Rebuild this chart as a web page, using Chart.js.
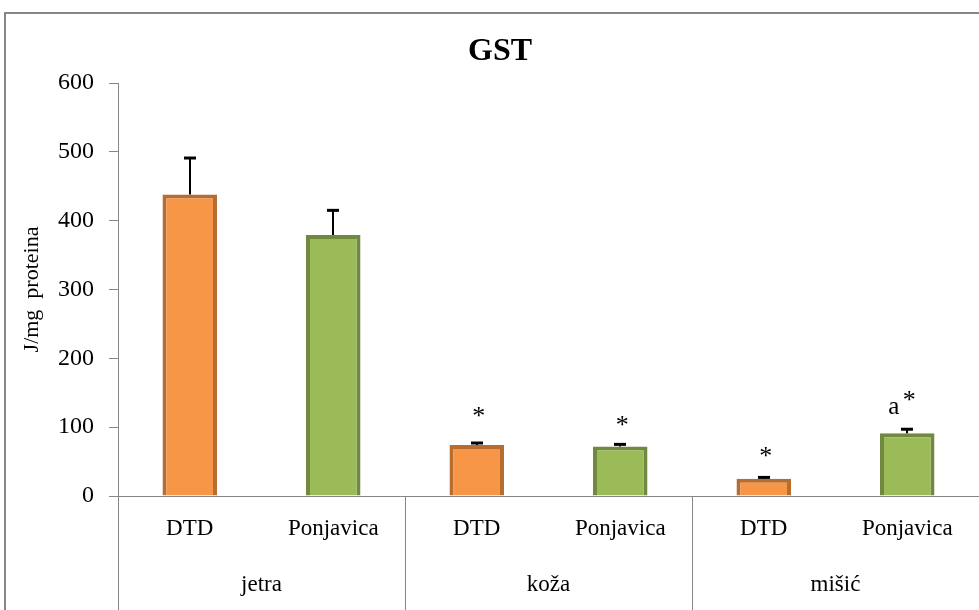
<!DOCTYPE html>
<html>
<head>
<meta charset="utf-8">
<script src="https://cdn.jsdelivr.net/npm/chart.js@4/dist/chart.umd.min.js"></script>
<style>
  html, body { margin: 0; padding: 0; background: #fff; overflow: hidden; }
  #wrap { position: absolute; left: 0; top: 0; width: 979px; height: 610px; }
</style>
</head>
<body>
<div id="wrap"><canvas id="c"></canvas></div>
<script>
// ---- data ----
const title = 'GST';
const groups = ['jetra', 'koža', 'mišić'];
const subLabels = ['DTD', 'Ponjavica', 'DTD', 'Ponjavica', 'DTD', 'Ponjavica'];
const values = [438, 379, 74, 72, 25, 91];
const errors = [53, 36, 3, 3, 2, 6];
const markPrefix = ['', '', '', '', '', 'a'];
const marks = ['', '', '*', '*', '*', '*'];
const markLevels = [0, 0, 115, 102, 57, 138];
const yTicks = [0, 100, 200, 300, 400, 500, 600];

const FONT = "'Liberation Serif', 'Times New Roman', serif";
const fills = ['#F79646', '#9BBB59'];
const borders = ['#B66D31', '#71893F'];
const gray = '#868686';

const extras = {
  id: 'extras',
  afterDatasetsDraw(chart) {
    const ctx = chart.ctx;
    const y = chart.scales.y;
    const meta = chart.getDatasetMeta(0);
    ctx.save();
    // error bars (upper only)
    ctx.strokeStyle = '#000';
    values.forEach((v, i) => {
      const bx = Math.round(meta.data[i].x);
      const y1 = y.getPixelForValue(v);
      const y2 = y.getPixelForValue(v + errors[i]);
      ctx.lineWidth = 2;
      ctx.beginPath(); ctx.moveTo(bx, y1); ctx.lineTo(bx, y2); ctx.stroke();
      ctx.lineWidth = 3;
      ctx.beginPath(); ctx.moveTo(bx - 6, y2); ctx.lineTo(bx + 6, y2); ctx.stroke();
    });
    // significance marks
    ctx.fillStyle = '#000';
    ctx.textBaseline = 'middle';
    marks.forEach((m, i) => {
      if (!m) return;
      const bx = meta.data[i].x;
      const py = y.getPixelForValue(markLevels[i]);
      ctx.font = '26px ' + FONT;
      ctx.textAlign = 'center';
      ctx.fillText(m, bx + 2, py);
      if (markPrefix[i]) {
        ctx.font = '25px ' + FONT;
        ctx.textAlign = 'right';
        ctx.fillText(markPrefix[i], bx - 8, py + 6);
      }
    });
    ctx.restore();
  },
  afterDraw(chart) {
    const ctx = chart.ctx;
    const x = chart.scales.x;
    const area = chart.chartArea;
    ctx.save();
    // outer frame
    ctx.strokeStyle = gray;
    ctx.lineWidth = 2;
    ctx.beginPath();
    ctx.moveTo(5, chart.height); ctx.lineTo(5, 13); ctx.lineTo(chart.width, 13);
    ctx.stroke();
    // group separators
    ctx.lineWidth = 1;
    const gw = (area.right - area.left) / groups.length;
    for (let g = 0; g <= groups.length; g++) {
      const sx = Math.round(area.left + g * gw) + 0.5;
      ctx.beginPath(); ctx.moveTo(sx, area.bottom); ctx.lineTo(sx, chart.height); ctx.stroke();
    }
    // group labels
    ctx.fillStyle = '#000';
    ctx.font = '23px ' + FONT;
    ctx.textAlign = 'center';
    ctx.textBaseline = 'middle';
    groups.forEach((g, i) => {
      const cx = (x.getPixelForValue(2 * i) + x.getPixelForValue(2 * i + 1)) / 2;
      ctx.fillText(g, cx, 585);
    });
    // chart title
    ctx.font = 'bold 32px ' + FONT;
    ctx.fillText(title, 500, 52);
    ctx.restore();
  }
};

new Chart(document.getElementById('c'), {
  type: 'bar',
  data: {
    labels: subLabels,
    datasets: [{
      data: values,
      backgroundColor: values.map((_, i) => fills[i % 2]),
      borderColor: values.map((_, i) => borders[i % 2]),
      borderWidth: 4,
      barPercentage: 0.38,
      categoryPercentage: 1
    }]
  },
  options: {
    responsive: true,
    maintainAspectRatio: false,
    animation: false,
    layout: { padding: { left: 0, right: 0, top: 83, bottom: 0 } },
    plugins: {
      legend: { display: false },
      tooltip: { enabled: false },
      title: { display: false }
    },
    scales: {
      x: {
        grid: { display: false },
        border: { display: true, color: gray, width: 1 },
        ticks: { color: '#000', font: { family: FONT, size: 23 }, padding: 11, maxRotation: 0, autoSkip: false },
        afterFit(s) { s.height = 114; }
      },
      y: {
        min: 0, max: 600,
        afterBuildTicks(s) { s.ticks = yTicks.map(v => ({ value: v })); },
        grid: { drawOnChartArea: false, drawTicks: true, tickLength: 9, color: gray },
        border: { display: true, color: gray, width: 1 },
        ticks: { color: '#000', font: { family: FONT, size: 24 }, padding: 15 },
        title: { display: true, text: 'J/mg  proteina', color: '#000', font: { family: FONT, size: 22 }, padding: { top: 19, bottom: 0 } },
        afterFit(s) { s.width = 118; }
      }
    }
  },
  plugins: [extras]
});
</script>
</body>
</html>
